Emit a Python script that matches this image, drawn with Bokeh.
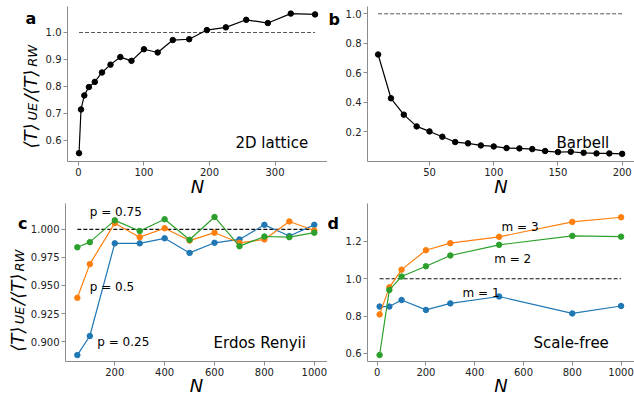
from bokeh.plotting import figure
from bokeh.layouts import column, row
from bokeh.models import Label, FixedTicker, NumeralTickFormatter, Range1d
from bokeh.embed import file_html
from bokeh.resources import INLINE

FONT = "DejaVu Sans"

# ---------------- data ----------------
# (a) 2D lattice
lattice_N = [1, 4, 9, 16, 25, 36, 49, 64, 81, 100, 121, 144, 169, 196, 225, 256, 289, 324, 361]
lattice_ratio = [0.553, 0.715, 0.767, 0.798, 0.817, 0.852, 0.881, 0.909, 0.895, 0.938,
                 0.926, 0.972, 0.975, 1.009, 1.019, 1.047, 1.035, 1.070, 1.067]

# (b) Barbell
barbell_N = [10, 20, 30, 40, 50, 60, 70, 80, 90, 100, 110, 120, 130, 140, 150, 160, 170, 180, 190, 200]
barbell_ratio = [0.724, 0.427, 0.316, 0.236, 0.202, 0.166, 0.130, 0.121, 0.107, 0.100,
                 0.089, 0.087, 0.082, 0.069, 0.062, 0.064, 0.057, 0.053, 0.053, 0.050]

# (c) Erdos Renyi
er_N = [50, 100, 200, 300, 400, 500, 600, 700, 800, 900, 1000]
er_p025 = [0.888, 0.905, 0.9875, 0.9875, 0.992, 0.979, 0.988, 0.991, 1.004, 0.994, 1.004]
er_p050 = [0.939, 0.969, 1.0055, 0.993, 1.001, 0.990, 0.997, 0.988, 0.991, 1.007, 0.999]
er_p075 = [0.984, 0.9886, 1.008, 0.9985, 1.009, 0.9907, 1.011, 0.985, 0.9936, 0.993, 0.997]

# (d) Scale-free
sf_N = [10, 50, 100, 200, 300, 500, 800, 1000]
sf_m1 = [0.851, 0.851, 0.886, 0.833, 0.868, 0.905, 0.814, 0.854]
sf_m2 = [0.591, 0.940, 1.012, 1.067, 1.125, 1.182, 1.230, 1.226]
sf_m3 = [0.809, 0.954, 1.049, 1.153, 1.191, 1.225, 1.305, 1.330]

reference_level = 1.0

# tick values
a_xticks = [0, 100, 200, 300]
a_yticks = [0.6, 0.7, 0.8, 0.9, 1.0]
b_xticks = [50, 100, 150, 200]
b_yticks = [0.2, 0.4, 0.6, 0.8, 1.0]
c_xticks = [200, 400, 600, 800, 1000]
c_yticks = [0.900, 0.925, 0.950, 0.975, 1.000]
d_xticks = [0, 200, 400, 600, 800, 1000]
d_yticks = [0.6, 0.8, 1.0, 1.2]

BLUE, ORANGE, GREEN = "#1f77b4", "#ff7f0e", "#2ca02c"
SPINE = "#8c8c8c"
TICKTXT = "#222222"

# row geometry (page pixels)
TOP_H, BOT_H = 200, 198
R1_TOP, R1_BOT = 6, 39      # borders of row 1 (frame 6..161)
R2_TOP, R2_BOT = 3, 34      # borders of row 2 (frame 203..364)


def make_fig(width, height, xr, yr, mbl, mbt, mbb, xticks, yticks, yfmt, n_standoff):
    p = figure(width=width, height=height, x_range=Range1d(*xr), y_range=Range1d(*yr),
               title=None, output_backend="svg", toolbar_location=None,
               min_border_left=mbl, min_border_right=0,
               min_border_top=mbt, min_border_bottom=mbb)
    p.xgrid.visible = False
    p.ygrid.visible = False
    p.outline_line_color = None
    p.background_fill_color = "white"
    p.border_fill_color = "white"
    for ax in (p.xaxis, p.yaxis):
        ax.axis_line_color = SPINE
        ax.axis_line_width = 1
        ax.major_tick_line_color = SPINE
        ax.minor_tick_line_color = None
        ax.major_tick_in = 0
        ax.major_tick_out = 4
        ax.major_label_text_font = FONT
        ax.major_label_text_font_size = "10px"
        ax.major_label_text_color = TICKTXT
        ax.major_label_standoff = 2
    p.xaxis.ticker = FixedTicker(ticks=xticks)
    p.yaxis.ticker = FixedTicker(ticks=yticks)
    p.xaxis.formatter = NumeralTickFormatter(format="0")
    p.yaxis.formatter = NumeralTickFormatter(format=yfmt)
    p.xaxis.axis_label = "N"
    p.xaxis.axis_label_text_font = FONT
    p.xaxis.axis_label_text_font_size = "18px"
    p.xaxis.axis_label_text_font_style = "italic"
    p.xaxis.axis_label_text_color = "black"
    p.xaxis.axis_label_standoff = n_standoff
    return p


def make_strip(x0, x1, y_top_page, height, mbt, mbb):
    """Text-only strip; its data coordinates equal page pixels."""
    f_top = y_top_page + mbt
    f_bot = y_top_page + height - mbb
    s = figure(width=x1 - x0, height=height, x_range=Range1d(x0, x1),
               y_range=Range1d(f_bot, f_top),
               title=None, output_backend="svg", toolbar_location=None,
               x_axis_type=None, y_axis_type=None, min_border_left=0, min_border_right=0,
               min_border_top=mbt, min_border_bottom=mbb)
    s.outline_line_color = None
    s.grid.visible = False
    s.background_fill_color = "white"
    s.border_fill_color = "white"
    return s


def lbl(p, text, x, y, size, style="normal", units="screen", angle=0.0,
        align="left", baseline="alphabetic", color="black"):
    p.add_layout(Label(x=x, y=y, x_units=units, y_units=units, text=text,
                       text_font=FONT, text_font_size=f"{size}px",
                       text_font_style=style, angle=angle, text_align=align,
                       text_baseline=baseline, text_color=color))


MAIN_FS, SUB_FS = 18, 13
YL_PIECES = [("\u27e8T\u27e9", MAIN_FS, 28.0, False),
             ("UE", SUB_FS, 19.7, True),
             ("/\u27e8T\u27e9", MAIN_FS, 34.1, False),
             ("RW", SUB_FS, 22.0, True)]


def ylabel(strip, x_main, x_sub, y_start):
    y = y_start
    for t, s, adv, is_sub in YL_PIECES:
        lbl(strip, t, x_sub if is_sub else x_main, y, s, style="italic",
            units="data", angle=1.5707963)
        y -= adv


# ---------- row 1 ----------
sL1 = make_strip(0, 42, 0, TOP_H, R1_TOP, R1_BOT)
ylabel(sL1, 29.5, 31.5, 148)
lbl(sL1, "a", 25, 18, 16, style="bold", units="data")

sM1 = make_strip(327, 341, 0, TOP_H, R1_TOP, R1_BOT)
lbl(sM1, "b", 328, 19, 16, style="bold", units="data")

pa = make_fig(285, TOP_H, (-16.6, 380), (0.5222, 1.0963), 22, R1_TOP, R1_BOT,
              a_xticks, a_yticks, "0.0", -3)
pa.line([lattice_N[0], lattice_N[-1]], [reference_level] * 2, line_color="#555555",
        line_width=1, line_dash="4 2")
pa.line(lattice_N, lattice_ratio, line_color="black", line_width=1.2)
pa.scatter(lattice_N, lattice_ratio, marker="circle", size=5.5, color="black")
lbl(pa, "2D lattice", 168, 19, 15)

pb = make_fig(293, TOP_H, (1.74, 209.6), (-0.002, 1.0496), 26, R1_TOP, R1_BOT,
              b_xticks, b_yticks, "0.0", -3)
pb.line([barbell_N[0], barbell_N[-1]], [reference_level] * 2, line_color="#555555",
        line_width=1, line_dash="4 2")
pb.line(barbell_N, barbell_ratio, line_color="black", line_width=1.2)
pb.scatter(barbell_N, barbell_ratio, marker="circle", size=5.5, color="black")
lbl(pb, "Barbell", 189, 19, 15)

# ---------- row 2 ----------
sL2 = make_strip(0, 27, TOP_H, BOT_H, R2_TOP, R2_BOT)
ylabel(sL2, 17, 19, 354)
lbl(sL2, "c", 27, 223, 16, style="bold", units="data", align="right")

sM2 = make_strip(327, 341, TOP_H, BOT_H, R2_TOP, R2_BOT)
lbl(sM2, "d", 327, 223, 16, style="bold", units="data")

pc = make_fig(300, BOT_H, (2.5, 1053), (0.8823, 1.023), 37, R2_TOP, R2_BOT,
              c_xticks, c_yticks, "0.000", -4)
pc.line([er_N[0], er_N[-1]], [reference_level] * 2, line_color="#111111",
        line_width=1.2, line_dash="4 2")
for vals, col in ((er_p025, BLUE), (er_p050, ORANGE), (er_p075, GREEN)):
    pc.line(er_N, vals, line_color=col, line_width=1.2)
    pc.scatter(er_N, vals, marker="circle", size=5.5, color=col)
lbl(pc, "p = 0.75", 100, 1.015, 12, units="data")
lbl(pc, "p = 0.5", 100, 0.949, 12, units="data")
lbl(pc, "p = 0.25", 130, 0.8997, 12, units="data")
lbl(pc, "Erdos Renyii", 148, 19, 15)

pd_ = make_fig(293, BOT_H, (-39.6, 1055), (0.5563, 1.4037), 26, R2_TOP, R2_BOT,
               d_xticks, d_yticks, "0.0", -4)
pd_.line([sf_N[0], sf_N[-1]], [reference_level] * 2, line_color="#111111",
         line_width=1.2, line_dash="4 2")
for vals, col in ((sf_m1, BLUE), (sf_m3, ORANGE), (sf_m2, GREEN)):
    pd_.line(sf_N, vals, line_color=col, line_width=1.2)
    pd_.scatter(sf_N, vals, marker="circle", size=5.5, color=col)
lbl(pd_, "m = 3", 510, 1.28, 12, units="data")
lbl(pd_, "m = 2", 480, 1.1035, 12, units="data")
lbl(pd_, "m = 1", 350, 0.925, 12, units="data")
lbl(pd_, "Scale-free", 166, 19, 15)

layout = column(row(sL1, pa, sM1, pb), row(sL2, pc, sM2, pd_))
open("out.html", "w").write(file_html(layout, INLINE))
